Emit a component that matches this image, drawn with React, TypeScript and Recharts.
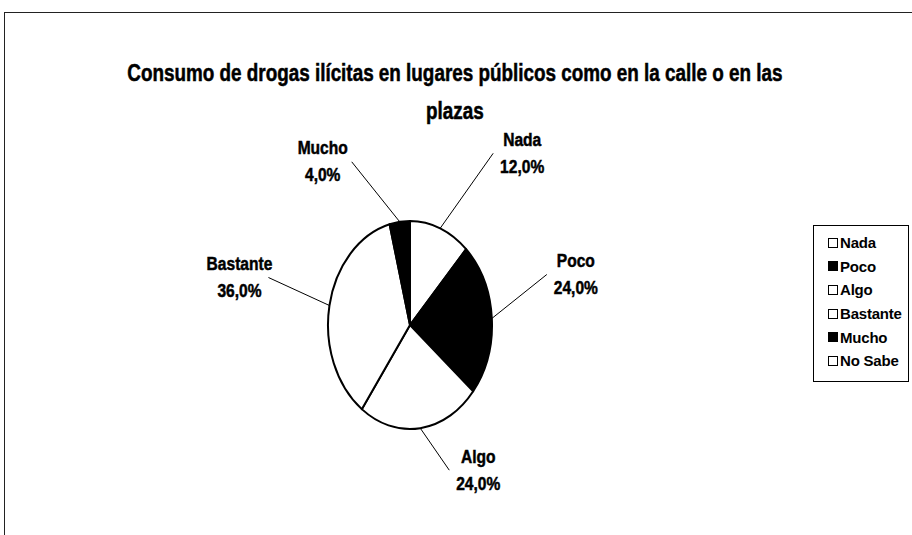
import { PieChart, Pie, Cell, Legend } from "recharts";

const categories = ["Nada", "Poco", "Algo", "Bastante", "Mucho", "No Sabe"];
const shares = [12, 24, 24, 36, 4, 0];
const fills = ["#ffffff", "#000000", "#ffffff", "#ffffff", "#000000", "#ffffff"];

const data = categories.map((name, i) => ({ name, value: shares[i] }));

const CX = 410;
const CY = 325;
const RY = 104;
const RX = 82;
const SX = RX / RY;
const RAD = Math.PI / 180;

const FONT = "'Liberation Sans', Arial, sans-serif";
// no Arial Narrow here, so squeeze regular Arial-metric text sideways
const NARROW = 0.82;

// where each data label was dragged to, relative to its slice's rim point
const LABEL_NUDGE: Record<string, [number, number]> = {
  Nada: [82, -76],
  Poco: [84, -45],
  Algo: [58, 41],
  Bastante: [-90, -29],
  Mucho: [-77, -61],
};

// the pie is drawn squashed sideways, like the old Excel chart
function rim(cx: number, cy: number, r: number, deg: number) {
  return [cx + r * SX * Math.cos(deg * RAD), cy - r * Math.sin(deg * RAD)];
}

function OvalSlice(props: any) {
  const { cx, cy, outerRadius, startAngle, endAngle, fill } = props;
  if (Math.abs(endAngle - startAngle) < 0.01) return <g />;
  const [x1, y1] = rim(cx, cy, outerRadius, startAngle);
  const [x2, y2] = rim(cx, cy, outerRadius, endAngle);
  const large = Math.abs(startAngle - endAngle) > 180 ? 1 : 0;
  const sweep = startAngle > endAngle ? 1 : 0;
  return (
    <path
      d={`M${cx},${cy} L${x1},${y1} A${outerRadius * SX},${outerRadius} 0 ${large} ${sweep} ${x2},${y2} Z`}
      fill={fill}
      stroke="#000"
      strokeWidth={2}
      strokeLinejoin="round"
    />
  );
}

function SliceLabel(props: any) {
  const { cx, cy, midAngle, outerRadius, value, percent } = props;
  const name = props.payload?.name ?? props.name;
  if (!value) return null;
  const [ex, ey] = rim(cx, cy, outerRadius, midAngle);
  const [dx, dy] = LABEL_NUDGE[name] ?? [0, 0];
  const lx = ex + dx;
  const ly = ey + dy;
  const side = dx >= 0 ? -1 : 1;
  const pct = (percent * 100).toFixed(1).replace(".", ",") + "%";
  const txt = {
    x: 0,
    y: 0,
    textAnchor: "middle" as const,
    dominantBaseline: "central" as const,
    fontFamily: FONT,
    fontWeight: 700,
    fontSize: 19,
    fill: "#000",
    stroke: "#000",
    strokeWidth: 0.5,
  };
  return (
    <g>
      <line x1={ex} y1={ey} x2={lx + side * 29} y2={ly + 1} stroke="#000" strokeWidth={1} />
      <text transform={`translate(${lx},${ly - 13}) scale(${NARROW},1)`} {...txt}>
        {name}
      </text>
      <text transform={`translate(${lx},${ly + 14}) scale(${NARROW},1)`} {...txt}>
        {pct}
      </text>
    </g>
  );
}

function BoxLegend({ payload }: any) {
  const items = [...(payload ?? [])].sort(
    (a: any, b: any) => categories.indexOf(a.value) - categories.indexOf(b.value)
  );
  return (
    <div
      style={{
        width: 96,
        height: 157,
        border: "1px solid #000",
        background: "#fff",
        boxSizing: "border-box",
        paddingTop: 5,
        fontFamily: FONT,
        fontWeight: 700,
        fontSize: 15,
        letterSpacing: -0.2,
      }}
    >
      {items.map((it: any) => (
        <div
          key={it.value}
          style={{ display: "flex", alignItems: "center", height: 23.6, paddingLeft: 14 }}
        >
          <span
            style={{
              width: 8,
              height: 8,
              border: "1px solid #000",
              background: it.payload?.fill ?? it.color,
              marginRight: 2,
              flexShrink: 0,
            }}
          />
          {it.value}
        </div>
      ))}
    </div>
  );
}

export default function App() {
  return (
    <div
      style={{
        position: "absolute",
        left: 0,
        top: 0,
        width: 912,
        height: 535,
        background: "#fff",
        overflow: "hidden",
      }}
    >
      <div
        style={{
          position: "absolute",
          left: 4,
          top: 12,
          right: 0,
          bottom: 0,
          borderTop: "1px solid #222",
          borderLeft: "1px solid #222",
        }}
      />
      <div
        style={{
          position: "absolute",
          left: 0,
          width: 911,
          top: 54,
          textAlign: "center",
          fontFamily: FONT,
          fontWeight: 700,
          fontSize: 23,
          lineHeight: "38px",
          color: "#000",
          WebkitTextStroke: "0.5px #000",
          transform: `scaleX(${NARROW})`,
          transformOrigin: "452px 50%",
        }}
      >
        Consumo de drogas ilícitas en lugares públicos como en la calle o en las
        <br />
        plazas
      </div>
      <PieChart width={912} height={535} margin={{ top: 0, right: 0, bottom: 0, left: 0 }}>
        <Pie
          data={data}
          dataKey="value"
          nameKey="name"
          cx={CX}
          cy={CY}
          outerRadius={RY}
          startAngle={90}
          endAngle={-270}
          shape={OvalSlice}
          label={SliceLabel}
          labelLine={false}
          isAnimationActive={false}
        >
          {data.map((d, i) => (
            <Cell key={d.name} fill={fills[i]} stroke="#000" />
          ))}
        </Pie>
        <Legend
          layout="vertical"
          content={BoxLegend}
          wrapperStyle={{ position: "absolute", left: 813, top: 225, width: 96 }}
        />
      </PieChart>
    </div>
  );
}
